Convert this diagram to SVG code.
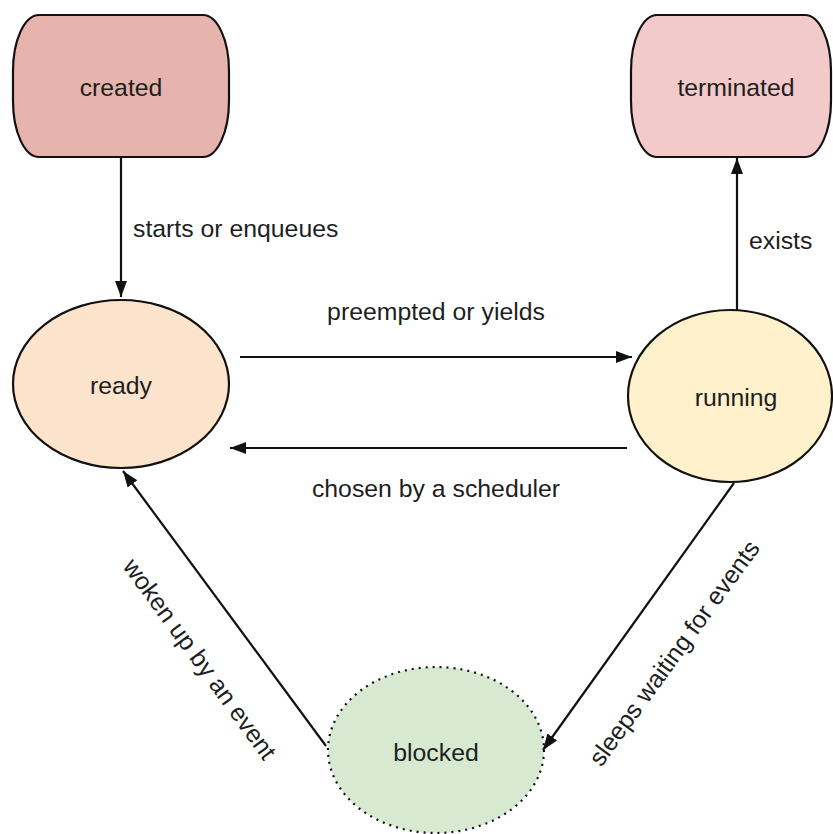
<svg xmlns="http://www.w3.org/2000/svg" width="833" height="834" viewBox="0 0 833 834">
  <style>
    .node { stroke: #111; stroke-width: 2.2; }
    .label { font-family: "Liberation Sans", Arial, sans-serif; font-size: 24.8px; fill: #1e1e1e; }
    .name { text-anchor: middle; }
    .edge { fill: none; stroke: #111; stroke-width: 2.2; marker-end: url(#arrow); }
  </style>
  <defs>
    <marker id="arrow" markerUnits="userSpaceOnUse" markerWidth="17" markerHeight="14" refX="16" refY="7" orient="auto">
      <path d="M0,1 L16,7 L0,13 Z" fill="#111"/>
    </marker>
  </defs>

  <rect width="833" height="834" fill="#ffffff"/>

  <!-- states -->
  <g id="created">
    <path class="node" fill="#e6b4ad" d="M39,15 H203 A26,56 0 0 1 229,71 V101 A26,56 0 0 1 203,157 H39 A26,56 0 0 1 13,101 V71 A26,56 0 0 1 39,15 Z"/>
    <text class="label name" x="121" y="96">created</text>
  </g>

  <g id="terminated">
    <path class="node" fill="#f3caca" d="M657,15 H805 A26,56 0 0 1 831,71 V101 A26,56 0 0 1 805,157 H657 A26,56 0 0 1 631,101 V71 A26,56 0 0 1 657,15 Z"/>
    <text class="label name" x="736" y="96">terminated</text>
  </g>

  <g id="ready">
    <ellipse class="node" fill="#fce3cb" cx="121" cy="384" rx="108" ry="84"/>
    <text class="label name" x="121" y="394">ready</text>
  </g>

  <g id="running">
    <ellipse class="node" fill="#fff1cb" cx="730" cy="396" rx="102" ry="86"/>
    <text class="label name" x="736" y="406">running</text>
  </g>

  <g id="blocked">
    <ellipse class="node" fill="#d8e9d1" stroke-dasharray="2 5" stroke-width="2.5" cx="436" cy="750" rx="108" ry="83"/>
    <text class="label name" x="436" y="761">blocked</text>
  </g>

  <!-- transitions -->
  <g id="connectors">
    <line class="edge" x1="121" y1="157" x2="121" y2="297"/>
    <line class="edge" x1="737" y1="310" x2="737" y2="158"/>
    <line class="edge" x1="240" y1="357" x2="632" y2="357"/>
    <line class="edge" x1="627" y1="448" x2="230" y2="448"/>
    <line class="edge" x1="326" y1="746" x2="123" y2="471"/>
    <line class="edge" x1="734" y1="483" x2="543" y2="750"/>
  </g>

  <!-- transition labels -->
  <g id="edge-labels">
    <text class="label" x="133" y="237">starts or enqueues</text>
    <text class="label" x="749" y="249">exists</text>
    <text class="label name" x="436" y="320">preempted or yields</text>
    <text class="label name" x="436" y="497">chosen by a scheduler</text>
    <text class="label name" x="193" y="664" transform="rotate(54 193 664)">woken up by an event</text>
    <text class="label name" x="681" y="658" transform="rotate(-54 681 658)">sleeps waiting for events</text>
  </g>
</svg>
